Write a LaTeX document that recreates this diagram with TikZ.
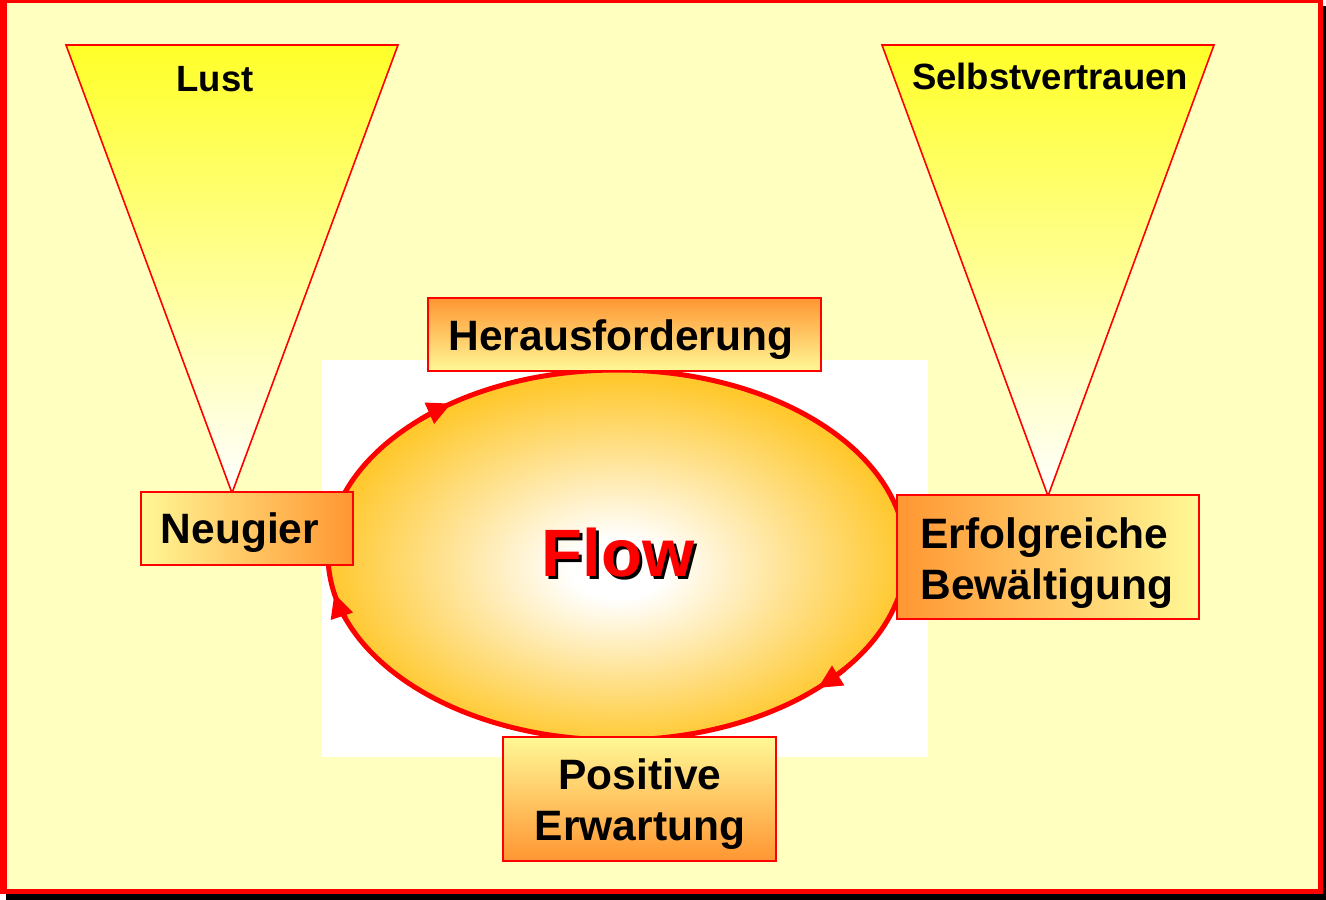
\documentclass[tikz,border=0pt]{standalone}
\usepackage{fontspec}
\setmainfont{Liberation Sans}
\usetikzlibrary{arrows.meta,calc}
\definecolor{bgyellow}{RGB}{255,255,192}
\definecolor{lyellow}{RGB}{255,248,150}
\definecolor{borange}{RGB}{255,150,50}
\definecolor{fyellow}{RGB}{255,255,40}
\definecolor{eorange}{RGB}{255,200,45}
\definecolor{fred}{RGB}{255,0,0}
\pgfdeclareradialshading{flowshade}{\pgfpoint{0bp}{-2bp}}{color(0bp)=(white); color(4bp)=(white); color(25bp)=(eorange); color(50bp)=(eorange)}
\newcommand{\shadowtext}[1]{\makebox[0pt][l]{\hspace{3pt}\raisebox{-3pt}{\color{black}#1}}\textcolor{fred}{#1}}
\tikzset{
  box/.style={draw=fred, line width=1.6pt, inner sep=0pt},
  boxtext/.style={font=\bfseries\fontsize{42.5}{51}\selectfont, align=left},
  tri/.style={draw=fred, line width=1.6pt, top color=fyellow, bottom color=white},
  tritext/.style={font=\bfseries\fontsize{36.5}{42}\selectfont},
  ring/.style={draw=fred, line width=5pt},
  ringtip/.style={fred, line width=5pt, -{Triangle[length=24pt,width=22pt]}}
}
\begin{document}
\begin{tikzpicture}[x=1pt,y=1pt]
\useasboundingbox (0,0) rectangle (1326,-900);
% frame
\fill[black] (6,-6) rectangle (1326,-900);
\fill[fred] (0,0) rectangle (1323,-894);
\fill[bgyellow] (7,-3) rectangle (1318,-889);
% triangles
\path[tri] (66,-45) -- (398,-45) -- (232,-493) -- cycle;
\path[tri] (882,-45) -- (1214,-45) -- (1048,-496) -- cycle;
\node[tritext] (lust) at (215,-79) {Lust};
\node[tritext] (selbst) at (1050,-76) {Selbstvertrauen};
% white backdrop
\fill[white] (322,-360) rectangle (928,-757);
% ellipse
\coordinate (c) at (617,-555);
\path[ring, shading=flowshade] (c) ellipse [x radius=289, y radius=185];
\draw[ringtip] ($(c)+(133:289 and 185)$) arc[start angle=133, end angle=125, x radius=289, y radius=185];
\draw[ringtip] ($(c)+(-38:289 and 185)$) arc[start angle=-38, end angle=-46, x radius=289, y radius=185];
\draw[ringtip] ($(c)+(200:289 and 185)$) arc[start angle=200, end angle=192, x radius=289, y radius=185];
% Flow
\node[font=\bfseries\fontsize{67}{70}\selectfont] (flow) at (618,-554) {\shadowtext{Flow}};
% boxes
\path[box, top color=borange, bottom color=lyellow] (428,-298) rectangle (821,-371);
\node[boxtext] (her) at (621,-340) {Herausforderung};
\path[box, left color=lyellow, right color=borange] (141,-492) rectangle (353,-565);
\node[boxtext] (neu) at (240,-533) {Neugier};
\path[box, left color=borange, right color=lyellow] (897,-495) rectangle (1199,-619);
\node[boxtext, anchor=west] (erf) at (917,-563) {Erfolgreiche\\Bewältigung};
\path[box, top color=lyellow, bottom color=borange] (503,-737) rectangle (776,-861);
\node[boxtext, align=center] (pos) at (640,-804) {Positive\\Erwartung};
\end{tikzpicture}
\end{document}
